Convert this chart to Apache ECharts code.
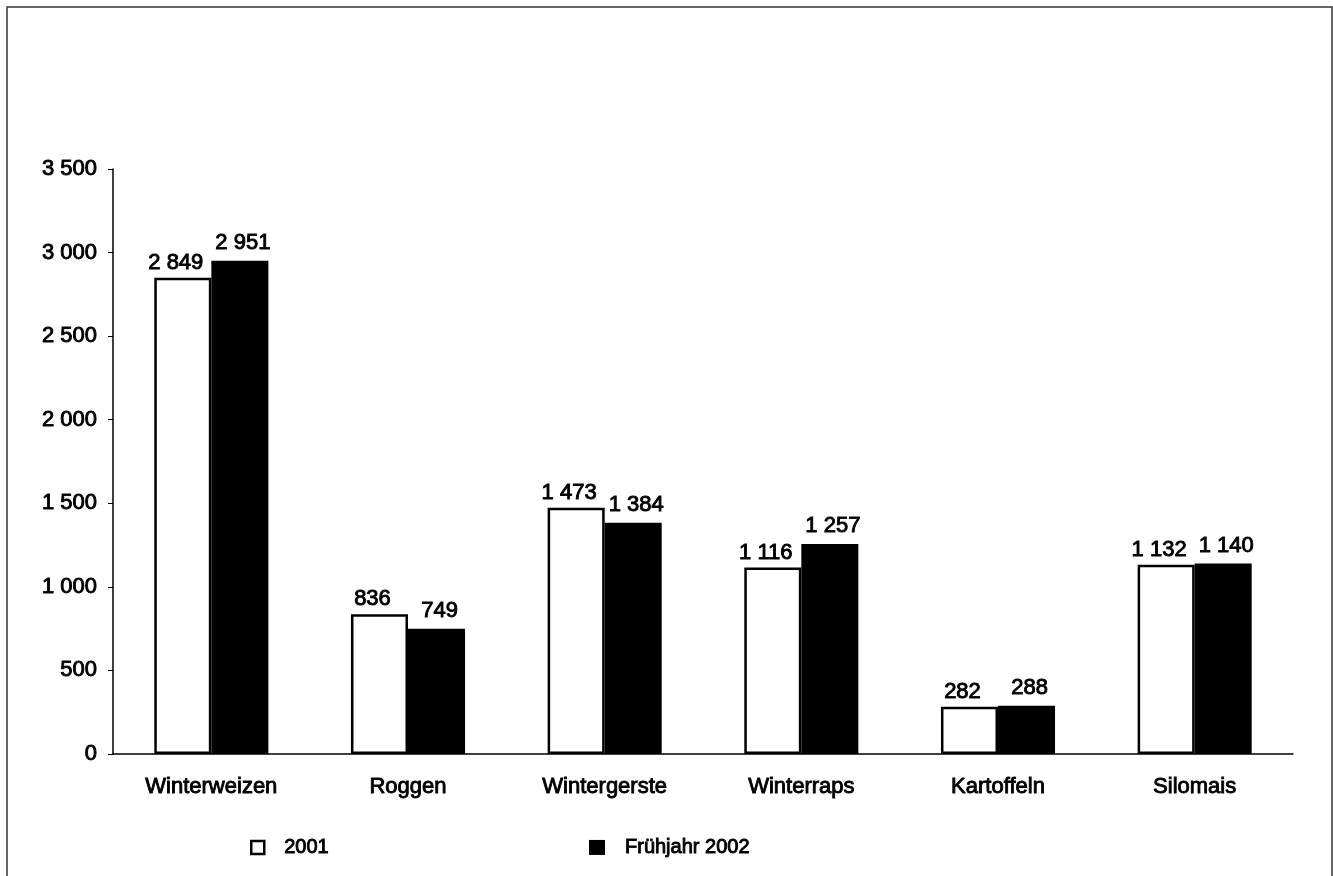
<html>
<head>
    <meta charset="utf-8">
    <title>Anbauflächen</title>
    <script src="https://cdn.jsdelivr.net/npm/echarts@6/dist/echarts.min.js"></script>
</head>
<body style="margin:0;">
<div id="main" style="width: 1333px;height:876px;"></div>
<script type="text/javascript">
    // Daten
    var kategorien = ['Winterweizen', 'Roggen', 'Wintergerste', 'Winterraps', 'Kartoffeln', 'Silomais'];
    var werte2001 = [2849, 836, 1473, 1116, 282, 1132];
    var werte2002 = [2951, 749, 1384, 1257, 288, 1140];
    var serienNamen = ['2001', 'Frühjahr 2002'];

    // Tausender mit Leerzeichen
    function fmt(v) {
        return String(v).replace(/\B(?=(\d{3})+(?!\d))/g, ' ');
    }

    // etwas kräftiger, wie im Scan
    var schrift = {
        fontFamily: 'Liberation Sans, Arial, sans-serif', fontSize: 22, color: '#000',
        textBorderColor: '#000', textBorderWidth: 0.9
    };
    var legSchrift = Object.assign({}, schrift, { fontSize: 20, padding: [0, 0, 0, 15] });

    var myChart = echarts.init(document.getElementById('main'));
    myChart.setOption({
        animation: false,
        backgroundColor: '#fff',
        graphic: [{
            type: 'rect',
            shape: { x: 7, y: 7, width: 1325, height: 880 },
            style: { fill: 'none', stroke: '#333', lineWidth: 1.5 }
        }],
        legend: [{
            data: [{ name: serienNamen[0], icon: 'rect' }],
            left: 245, top: 832,
            itemWidth: 13, itemHeight: 13,
            textStyle: legSchrift,
            itemStyle: { borderWidth: 2.5 }
        }, {
            data: [{ name: serienNamen[1], icon: 'rect' }],
            left: 584, top: 832,
            itemWidth: 16, itemHeight: 15,
            textStyle: legSchrift
        }],
        grid: { left: 113, right: 40, top: 169, bottom: 122 },
        xAxis: {
            type: 'category',
            data: kategorien,
            axisLine: { lineStyle: { color: '#000', width: 1.5 } },
            axisTick: { length: 6, lineStyle: { color: '#000' } },
            axisLabel: Object.assign({ margin: 22 }, schrift)
        },
        yAxis: {
            type: 'value',
            min: 0, max: 3500, interval: 500,
            splitLine: { show: false },
            axisLine: { show: true, lineStyle: { color: '#000', width: 1.5 } },
            axisTick: { show: true, length: 5, lineStyle: { color: '#000' } },
            axisLabel: Object.assign({ margin: 16, formatter: fmt }, schrift)
        },
        series: [{
            name: serienNamen[0],
            type: 'bar',
            data: werte2001,
            barGap: '0%',
            barCategoryGap: '42%',
            itemStyle: { color: '#fff', borderColor: '#000', borderWidth: 2.5 },
            label: Object.assign({ show: true, position: 'top', distance: 4, offset: [-7, 0], formatter: function (p) { return fmt(p.value); } }, schrift)
        }, {
            name: serienNamen[1],
            type: 'bar',
            data: werte2002,
            itemStyle: { color: '#000' },
            label: Object.assign({ show: true, position: 'top', distance: 7, offset: [3, 0], formatter: function (p) { return fmt(p.value); } }, schrift)
        }]
    });
</script>
</body>
</html>
